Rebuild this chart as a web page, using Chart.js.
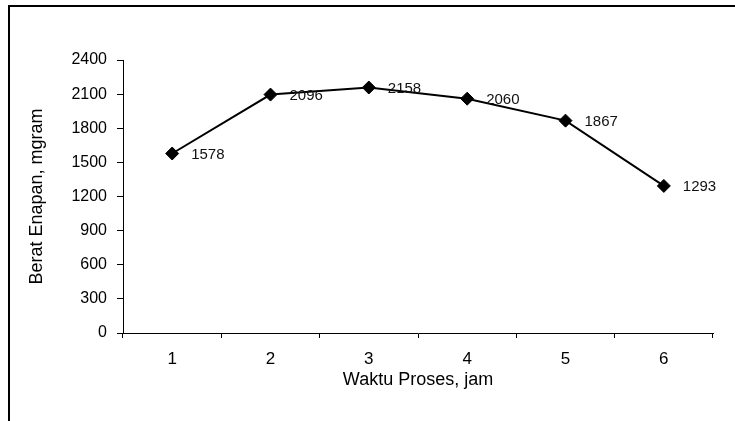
<!DOCTYPE html>
<html>
<head>
<meta charset="utf-8">
<script src="https://cdn.jsdelivr.net/npm/chart.js@4/dist/chart.umd.min.js"></script>
<style>
  html, body { margin: 0; padding: 0; background: #fff; }
  #wrap { width: 735px; height: 421px; }
</style>
</head>
<body>
<div id="wrap"><canvas id="c" width="735" height="421"></canvas></div>
<script>
// Process time (hours) on the x axis
const hours = ['1', '2', '3', '4', '5', '6'];
// Sediment weight (mg) for each process time
const sedimentWeight = [1578, 2096, 2158, 2060, 1867, 1293];
// Value axis ticks
const yTickValues = [0, 300, 600, 900, 1200, 1500, 1800, 2100, 2400];

const xTitle = 'Waktu Proses, jam';
const yTitle = 'Berat Enapan, mgram';

const FONT = '"Liberation Sans", Arial, sans-serif';

// Frame line along the top and left edge of the figure
const framePlugin = {
  id: 'frame',
  beforeDraw(chart) {
    const ctx = chart.ctx;
    ctx.save();
    ctx.fillStyle = '#fff';
    ctx.fillRect(0, 0, chart.width, chart.height);
    ctx.fillStyle = '#000';
    ctx.fillRect(8, 5, chart.width - 8, 2);
    ctx.fillRect(8, 5, 2, chart.height - 5);
    ctx.restore();
  }
};

// Value labels to the right of each marker
const valueLabelPlugin = {
  id: 'valueLabels',
  afterDatasetsDraw(chart) {
    const ctx = chart.ctx;
    const meta = chart.getDatasetMeta(0);
    ctx.save();
    ctx.font = '15px ' + FONT;
    ctx.fillStyle = '#111';
    ctx.textAlign = 'left';
    ctx.textBaseline = 'middle';
    meta.data.forEach((pt, i) => {
      ctx.fillText(String(sedimentWeight[i]), pt.x + 19, pt.y + 1);
    });
    ctx.restore();
  }
};

new Chart(document.getElementById('c'), {
  type: 'line',
  data: {
    labels: hours,
    datasets: [{
      data: sedimentWeight,
      borderColor: '#000',
      borderWidth: 2,
      backgroundColor: '#000',
      pointStyle: 'rectRot',
      pointRadius: 6.5,
      pointBorderWidth: 1,
      pointBackgroundColor: '#000',
      pointBorderColor: '#000',
      tension: 0,
      fill: false
    }]
  },
  options: {
    responsive: false,
    animation: false,
    events: [],
    layout: { padding: { top: 60, right: 22, bottom: 0, left: 0 } },
    plugins: {
      legend: { display: false },
      tooltip: { enabled: false }
    },
    scales: {
      x: {
        type: 'category',
        offset: true,
        grid: {
          offset: true,
          drawOnChartArea: false,
          drawTicks: true,
          tickLength: 5,
          color: '#000',
          lineWidth: 1
        },
        border: { color: '#000', width: 1 },
        ticks: {
          color: '#000',
          font: { family: FONT, size: 17 },
          padding: 11,
          maxRotation: 0
        },
        title: {
          display: true,
          text: xTitle,
          color: '#000',
          font: { family: FONT, size: 18 },
          padding: { top: 0, bottom: 30 }
        },
        afterFit(scale) { scale.height = 88; }
      },
      y: {
        min: yTickValues[0],
        max: yTickValues[yTickValues.length - 1],
        afterBuildTicks(scale) {
          scale.ticks = yTickValues.map(v => ({ value: v }));
        },
        grid: {
          drawOnChartArea: false,
          drawTicks: true,
          tickLength: 6,
          color: '#000',
          lineWidth: 1
        },
        border: { color: '#000', width: 1 },
        ticks: {
          color: '#000',
          font: { family: FONT, size: 16 },
          padding: 10,
          callback: v => String(v)
        },
        title: {
          display: true,
          text: yTitle,
          color: '#000',
          font: { family: FONT, size: 18 },
          padding: { top: 26, bottom: 0 }
        },
        afterFit(scale) { scale.width = 123; }
      }
    }
  },
  plugins: [framePlugin, valueLabelPlugin]
});
</script>
</body>
</html>
